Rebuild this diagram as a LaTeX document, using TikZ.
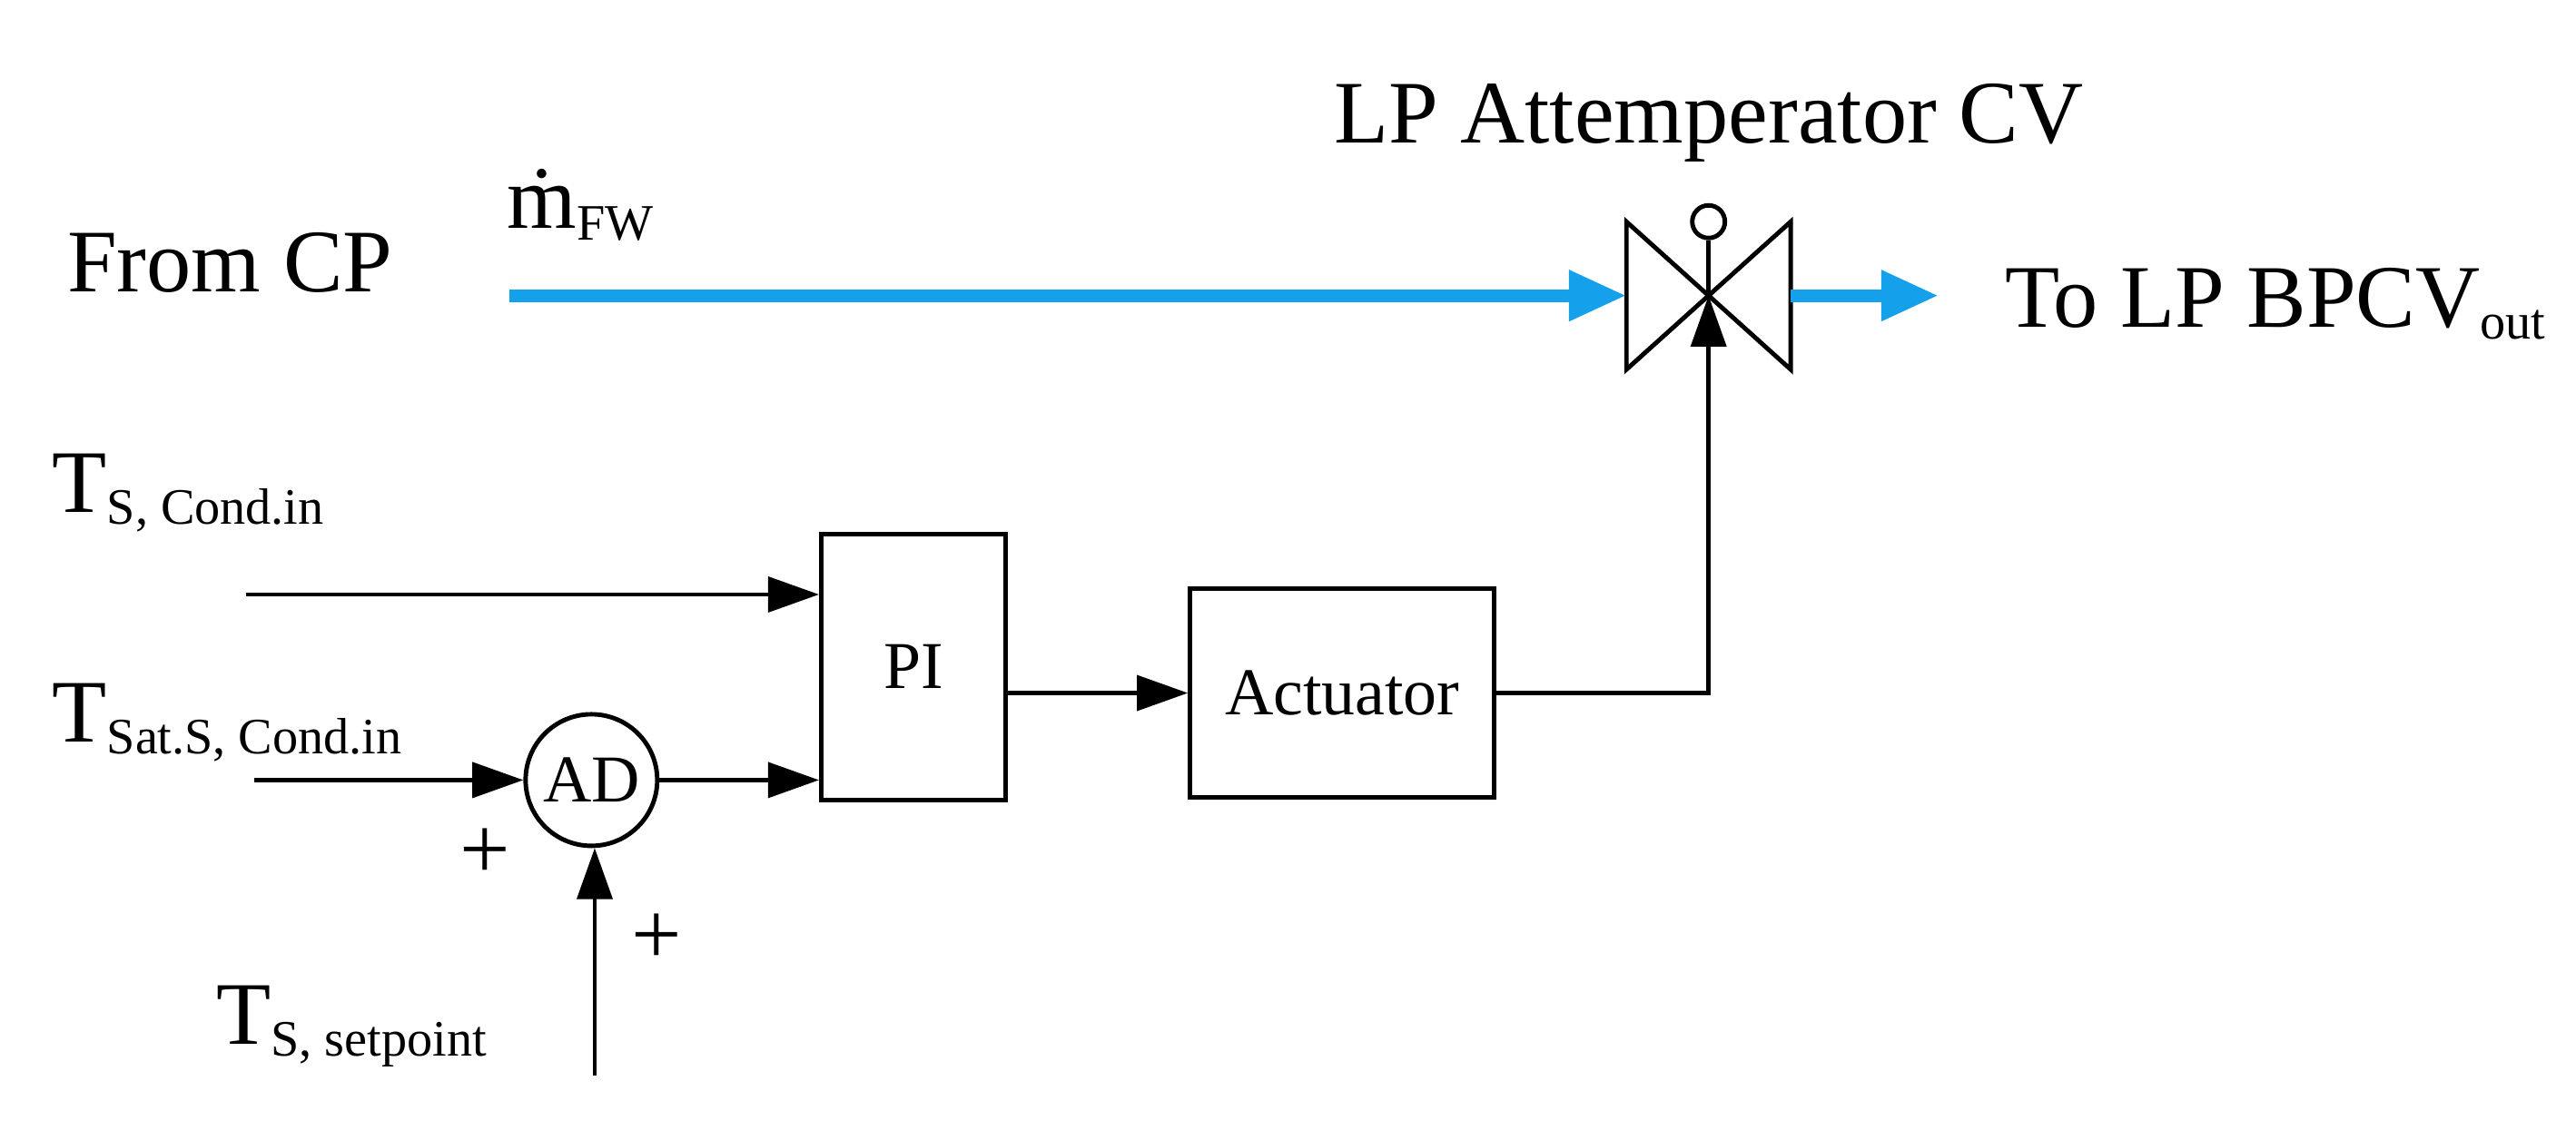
\documentclass[tikz,border=0pt]{standalone}
\usepackage{fontspec}
\setmainfont{Liberation Serif}
\usetikzlibrary{arrows.meta,positioning}
\definecolor{flowblue}{RGB}{20,160,235}
\newcommand{\sub}[1]{\textsubscript{\fontsize{16}{18}\selectfont #1}}
\begin{document}
\begin{tikzpicture}[x=0.01809cm,y=-0.01809cm,
  every node/.style={font=\fontsize{28}{32}\selectfont},
  blockbox/.style={draw, line width=1.4pt, font=\fontsize{21}{25}\selectfont},
  sig/.style={line width=1.4pt, -{Triangle[length=16pt,width=11pt]}},
  flow/.style={flowblue, line width=4pt, -{Triangle[length=18pt,width=15pt]}}]
\useasboundingbox (0,0) rectangle (1568,694);
% labels
\node (from) at (140,160) {From CP};
\node[anchor=west] (mfw) at (302,125) {\.{m}\sub{FW}};
\node[anchor=west, inner sep=0pt] (to) at (1220,185) {To LP BPCV\sub{out}};
\node (cvlabel) at (1040,75) {LP Attemperator CV};
% valve
\coordinate (vin) at (990,180);
\coordinate (vc) at (1040,180);
\coordinate (vout) at (1090,180);
\draw[line width=1.4pt] (990,135) -- (990,225) -- (1090,135) -- (1090,225) -- cycle;
\node[draw, circle, line width=1.4pt, minimum size=0.36cm, inner sep=0pt] (knob) at (1040,135) {};
\draw[line width=1.4pt] (knob.south) -- (vc);
\coordinate (fstart) at (310,180);
\coordinate (fend) at (1180,180);
\draw[flow] (fstart) -- (vin);
\draw[flow] (vout) -- (fend);
% blocks
\node[blockbox, minimum width=2.03cm, minimum height=2.93cm] (pi) at (556,406) {PI};
\node[blockbox, minimum width=3.35cm, minimum height=2.30cm] (act) at (817,422) {Actuator};
\node[draw, circle, line width=1.4pt, minimum size=1.45cm, inner sep=0pt, font=\fontsize{21}{25}\selectfont] (ad) at (360,475) {AD};
% inputs
\node[anchor=west] (tsc) at (25,300) {T\sub{S, Cond.in}};
\node[anchor=west] (tsat) at (25,440) {T\sub{Sat.S, Cond.in}};
\node[anchor=west] (tset) at (125,625) {T\sub{S, setpoint}};
\coordinate (tscin) at (150,362);
\coordinate (tsatin) at (155,475);
\coordinate (tsetin) at (362,655);
\node (p1) at (295,520) {+};
\node (p2) at (400,572) {+};
% connectors
\draw[sig] (tscin) -- (tscin -| pi.west);
\draw[sig] (tsatin) -- (ad.west);
\draw[sig] (tsetin) -- (tsetin |- ad.south);
\draw[sig] (ad.east) -- (ad.east -| pi.west);
\draw[sig] (pi.east |- act.west) -- (act.west);
\draw[sig] (act.east) -| (vc);
\end{tikzpicture}
\end{document}
